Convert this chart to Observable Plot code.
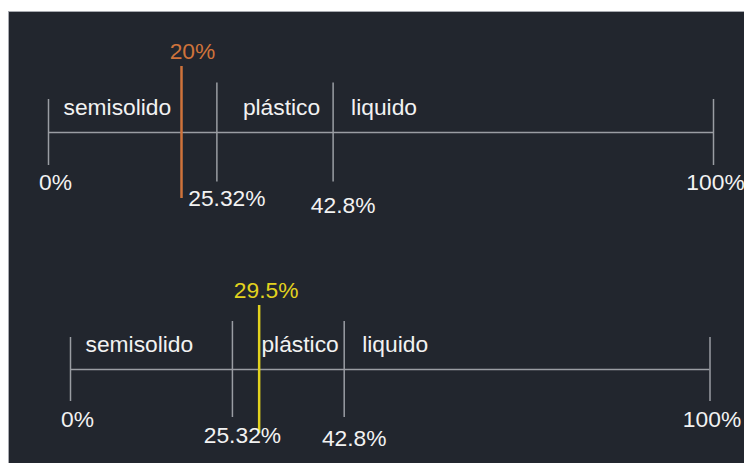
<!DOCTYPE html>
<html>
<head>
<meta charset="utf-8">
<script src="https://cdn.jsdelivr.net/npm/d3@7"></script>
<script src="https://cdn.jsdelivr.net/npm/@observablehq/plot@0.6"></script>
<style>
  html, body { margin: 0; padding: 0; background: #ffffff; }
  #page { position: relative; width: 744px; height: 463px; overflow: hidden; }
  #dark { position: absolute; left: 8px; top: 11px; width: 736px; height: 452px;
          background: #22262e; border-top: 1px solid #a8aab0; border-left: 1px solid #a8aab0; box-sizing: border-box; }
  .panel { position: absolute; left: 8px; }
  .panel svg { overflow: visible; }
</style>
</head>
<body>
<div id="page"><div id="dark"></div></div>
<script>
// Data
const tickValues = [0, 25.32, 42.8, 100];
const tickLabels = ["0%", "25.32%", "42.8%", "100%"];
const regionNames = ["semisolido", "plástico", "liquido"];
const regionStarts = [0, 25.32, 42.8];
const markerValues = [20, 29.5];
const markerLabels = ["20%", "29.5%"];

const GREY = "#9a9da3";
const WHITE = "#f2f2f2";
const FONT = "Liberation Sans, Arial, sans-serif";
const FS = 22.8;

function panel(mi, color, opt) {
  const ticks = tickValues.map((v, i) => ({v, label: tickLabels[i], i}));
  const last = ticks.length - 1;
  const ends = ticks.filter(d => d.i === 0 || d.i === last);
  const mids = ticks.filter(d => !(d.i === 0 || d.i === last));
  const regions = regionNames.map((name, i) => ({name, x: regionStarts[i]}));
  const marker = [{v: markerValues[mi], label: markerLabels[mi]}];
  const regionDx = [15, opt.plDx, 18];
  const midDy = [73, opt.dy428];
  const endDx = [7, 2];
  return Plot.plot({
    width: 736, height: opt.height,
    marginLeft: opt.ml, marginRight: opt.mr, marginTop: opt.mt, marginBottom: opt.mb,
    x: {domain: [0, 100], axis: null},
    y: {domain: [-1, 1], axis: null},
    style: {background: "transparent", fontFamily: FONT},
    marks: [
      Plot.ruleY([0], {x1: 0, x2: 100, stroke: GREY, strokeWidth: 1.5}),
      Plot.ruleX(ends, {x: "v", y1: -0.5, y2: 0.5, stroke: GREY, strokeWidth: 1.5}),
      Plot.ruleX(mids, {x: "v", y1: -0.75, y2: 0.75, stroke: GREY, strokeWidth: 1.5}),
      Plot.ruleX(marker, {x: "v", y1: -1, y2: 1, stroke: color, strokeWidth: 2.5}),
      Plot.text(marker, {x: "v", y: 1, text: "label", fill: color, fontSize: FS, textAnchor: "middle", lineAnchor: "bottom", dx: opt.mDx, dy: -8}),
      ...regions.map((r, i) => Plot.text([r], {x: "x", y: 0, text: "name", fill: WHITE, fontSize: FS, textAnchor: "start", lineAnchor: "bottom", dx: regionDx[i], dy: -18})),
      ...ends.map((e, i) => Plot.text([e], {x: "v", y: 0, text: "label", fill: WHITE, fontSize: FS, textAnchor: "middle", lineAnchor: "bottom", dx: endDx[i], dy: 57})),
      ...mids.map((m, i) => Plot.text([m], {x: "v", y: 0, text: "label", fill: WHITE, fontSize: FS, textAnchor: "middle", lineAnchor: "bottom", dx: 10, dy: midDy[i]}))
    ]
  });
}

const page = document.getElementById("page");
const p1 = panel(0, "#cf733b", {height: 220, ml: 40, mr: 31, mt: 55, mb: 33, dy428: 80, plDx: 26, mDx: 11});
const p2 = panel(1, "#e2d21e", {height: 232, ml: 62, mr: 34.5, mt: 74, mb: 30, dy428: 76, plDx: 29, mDx: 7});
const w1 = document.createElement("div"); w1.className = "panel"; w1.style.top = "11px"; w1.appendChild(p1);
const w2 = document.createElement("div"); w2.className = "panel"; w2.style.top = "231px"; w2.appendChild(p2);
page.appendChild(w1); page.appendChild(w2);
</script>
</body>
</html>
